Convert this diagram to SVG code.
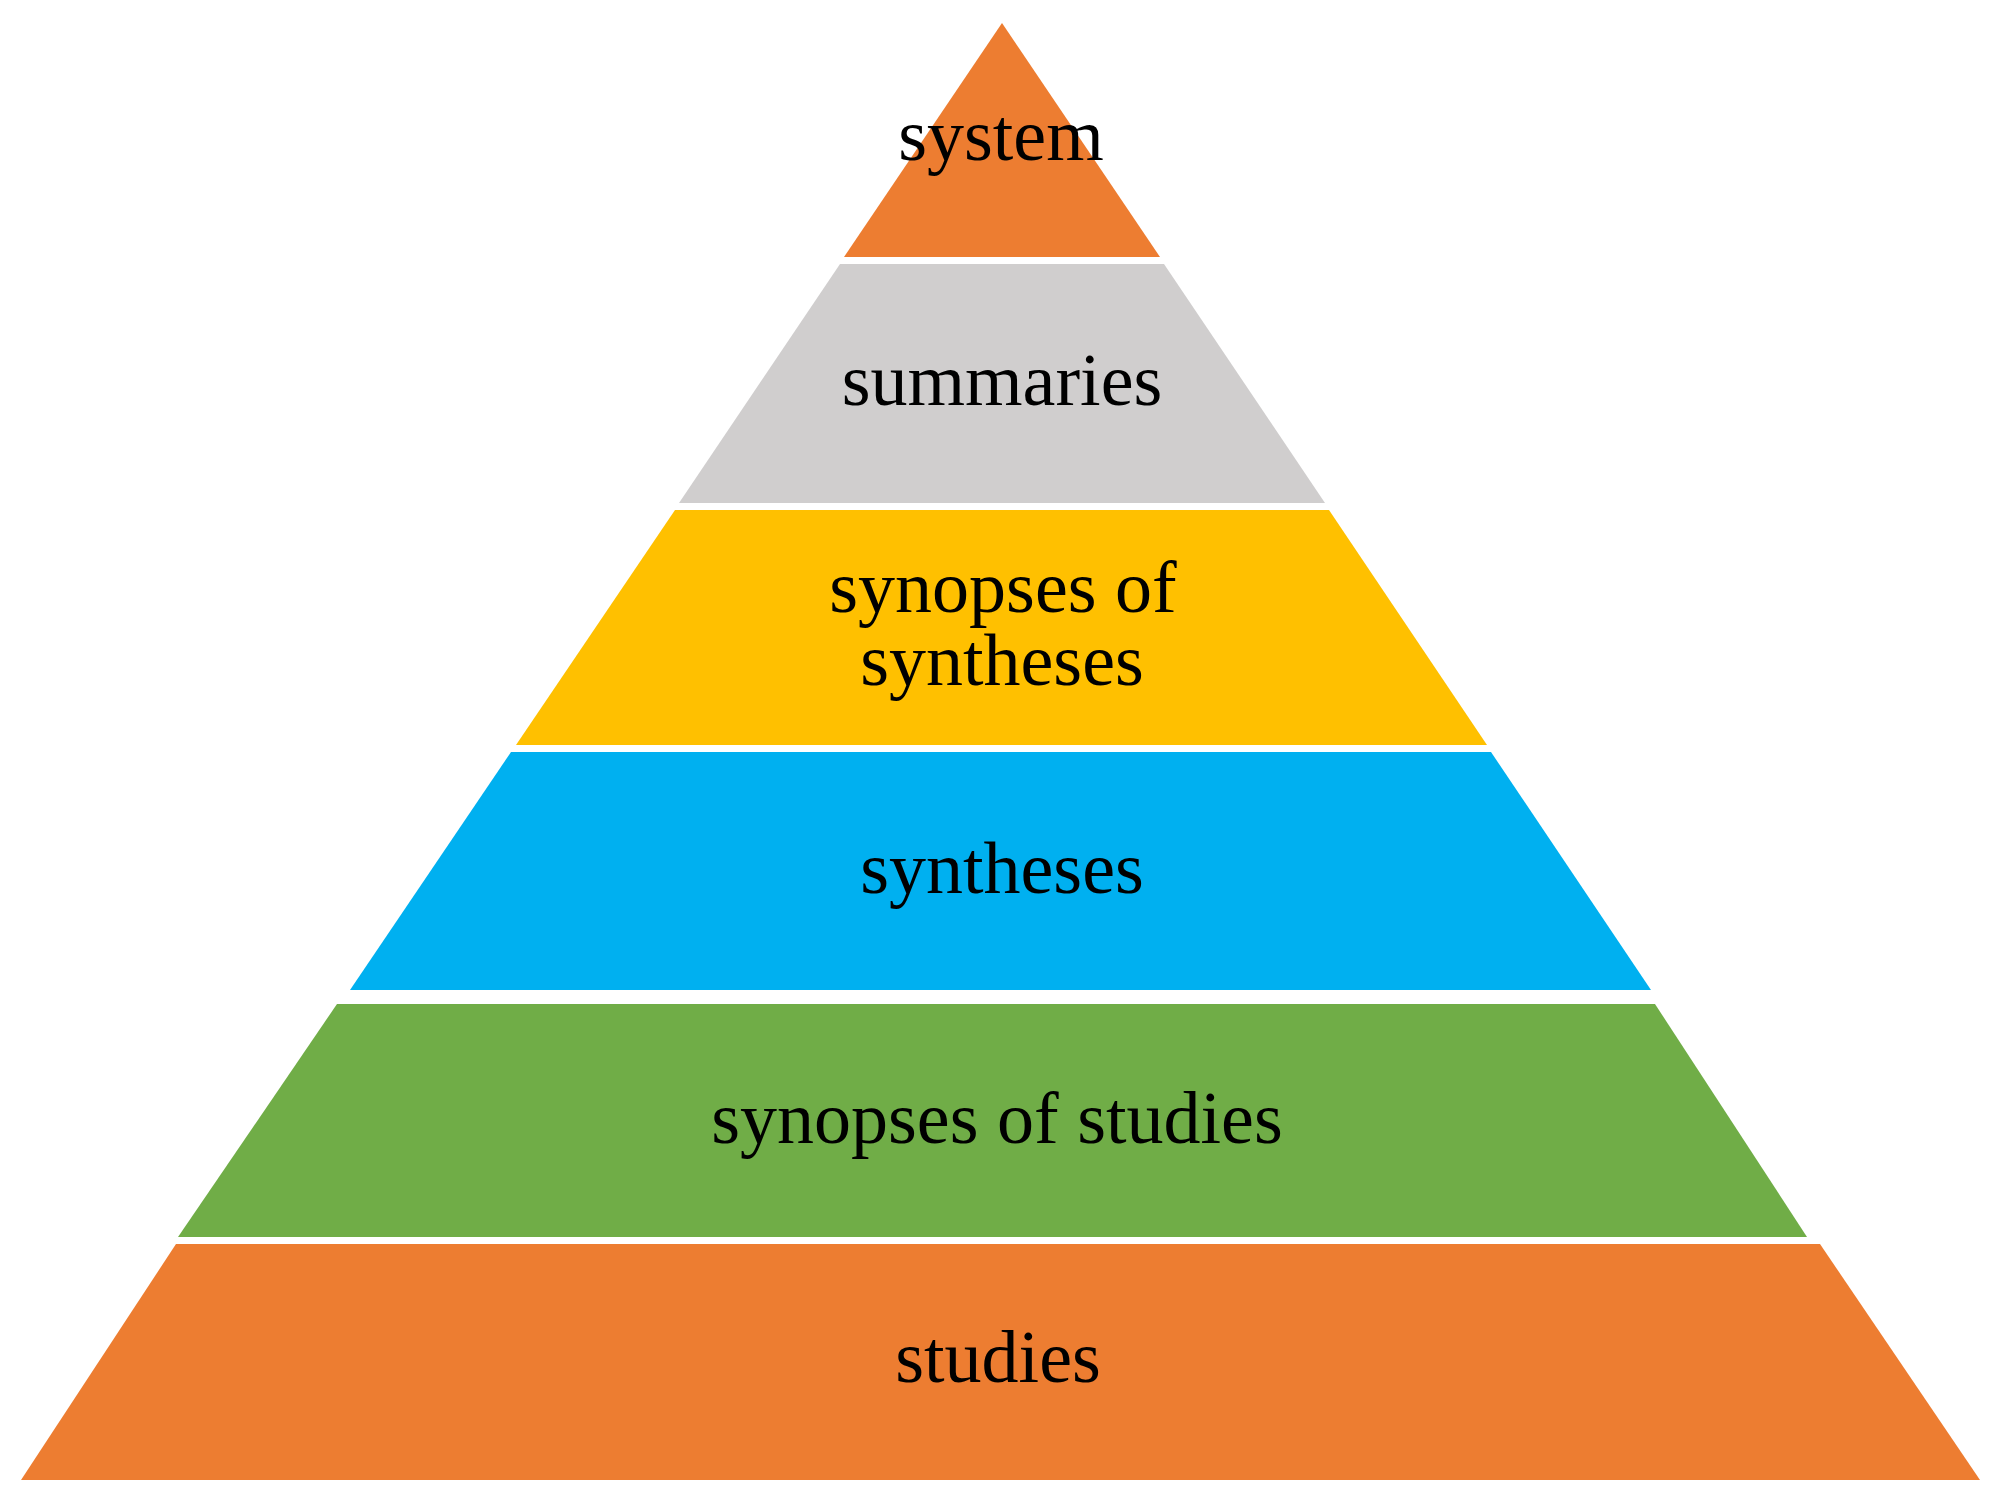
<svg xmlns="http://www.w3.org/2000/svg" width="1999" height="1495" viewBox="0 0 1999 1495">
<style>
.lbl{font-family:"Liberation Serif","Times New Roman",serif;font-size:74px;fill:#000;text-anchor:middle}
</style>
<rect x="0" y="0" width="1999" height="1495" fill="#ffffff"/>
<g id="connectors"></g>
<g id="band-system">
<polygon points="1002,23 1160,257 844,257" fill="#ED7D31"/>
<text class="lbl" x="1001" y="160">system</text>
</g>
<g id="band-summaries">
<polygon points="840,264 1164,264 1325,503 679,503" fill="#D0CECE"/>
<text class="lbl" x="1002" y="405">summaries</text>
</g>
<g id="band-synopses-of-syntheses">
<polygon points="675,510 1329,510 1487,745 516,745" fill="#FFC000"/>
<text class="lbl" x="1003" y="612">synopses of</text>
<text class="lbl" x="1002" y="685">syntheses</text>
</g>
<g id="band-syntheses">
<polygon points="511,752 1491,752 1651,990 350,990" fill="#00B0F0"/>
<text class="lbl" x="1002" y="893">syntheses</text>
</g>
<g id="band-synopses-of-studies">
<polygon points="337,1004 1655,1004 1807,1237 178,1237" fill="#70AD47"/>
<text class="lbl" x="997" y="1143">synopses of studies</text>
</g>
<g id="band-studies">
<polygon points="176,1244 1820,1244 1980,1480 21,1480" fill="#ED7D31"/>
<text class="lbl" x="998" y="1382">studies</text>
</g>
</svg>
